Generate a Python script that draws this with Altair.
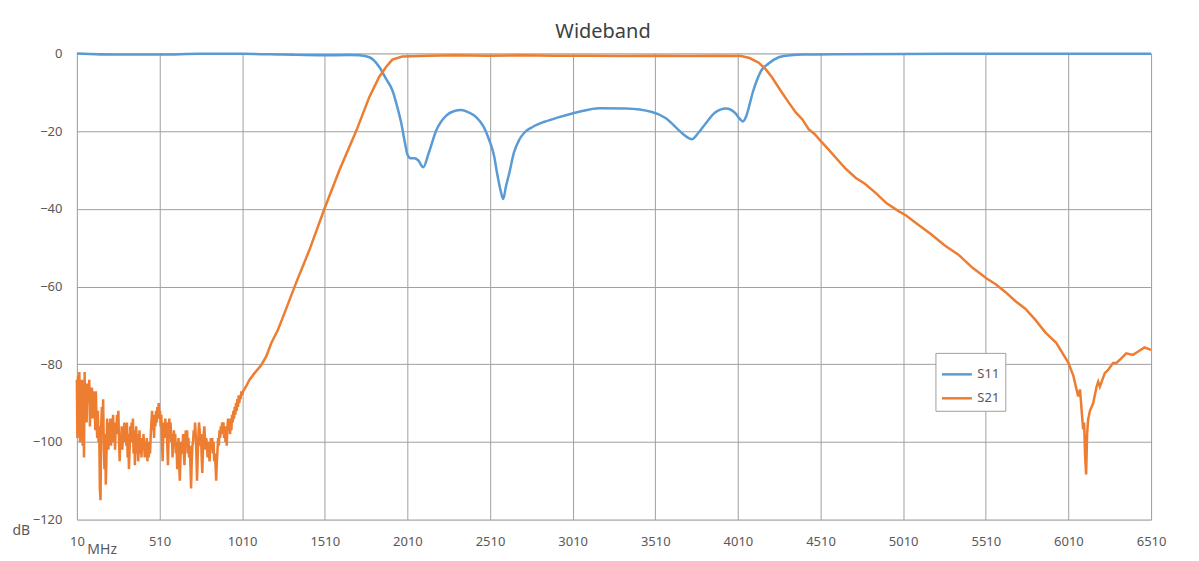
import altair as alt
import pandas as pd

# ---------------- data ----------------
s11_mhz = [10, 260, 510, 760, 1010, 1260, 1500, 1660, 1720, 1780, 1840, 1880, 1919, 1950, 1973,
           1995, 2010, 2030, 2052, 2075, 2106, 2140, 2185, 2245, 2290, 2336, 2380, 2426, 2470,
           2505, 2535, 2553, 2575, 2590, 2605, 2626, 2655, 2686, 2720, 2765, 2840, 2928, 3050,
           3170, 3332, 3490, 3574, 3653, 3700, 3731, 3770, 3816, 3870, 3937, 3997, 4020, 4040,
           4060, 4076, 4100, 4125, 4150, 4196, 4257, 4300, 4400, 4600, 5000, 5500, 6000, 6510]
s11_db = [0, -0.3, -0.3, -0.1, -0.1, -0.3, -0.5, -0.4, -0.5, -1.0, -3.5, -6.5, -9.5, -14, -18,
          -23, -26, -27, -27, -27.5, -29.3, -25.5, -19.8, -16, -14.9, -14.6, -15.2, -16.4, -18.8,
          -22.3, -26.5, -30.9, -35.5, -37.5, -34.5, -30.9, -25.5, -22.3, -20.3, -19, -17.6, -16.4, -15,
          -14.1, -14.2, -15.1, -16.7, -19.8, -21.5, -22.1, -20.5, -18, -15.3, -14.2, -15.5, -16.8, -17.5,
          -16.2, -13.9, -10, -6.9, -4.5, -2.6, -1, -0.6, -0.3, -0.2, -0.15, -0.1, -0.1, -0.1]

s21_mhz = [10, 13, 17, 21, 25, 29, 33, 37, 41, 45, 49, 53, 57, 61, 65, 69, 73, 77, 81, 85, 89, 93, 97,
           101, 105, 109, 113, 117, 121, 125, 129, 133, 137, 141, 145, 149, 153, 157, 161, 165, 169,
           173, 177, 181, 185, 189, 193, 197, 201, 205, 209, 213, 217, 221, 225, 229, 233, 237, 241,
           245, 249, 253, 257, 261, 265, 269, 273, 277, 281, 285, 289, 293, 297, 301, 305, 309, 313,
           317, 321, 325, 329, 333, 337, 341, 345, 349, 353, 357, 361, 365, 369, 373, 377, 381, 385,
           389, 393, 397, 401, 405, 409, 413, 417, 421, 425, 429, 433, 437, 441, 445, 449, 453, 457,
           461, 465, 469, 473, 477, 481, 485, 489, 493, 497, 501, 505, 509,
           513, 517, 521, 525, 529, 533, 537, 541, 545, 549, 553, 557, 561, 565, 569, 573, 577, 581,
           585, 589, 593, 597, 601, 605, 609, 613, 617, 621, 625, 629, 633, 637, 641, 645, 649, 653,
           657, 661, 665, 669, 673, 677, 681, 685, 689, 693, 697, 701, 705, 709, 713, 717, 721, 725,
           729, 733, 737, 741, 745, 749, 753, 757, 761, 765, 769, 773, 777, 781, 785, 789, 793, 797,
           801, 805, 809, 813, 817, 821, 825, 829, 833, 837, 841, 845, 849, 853, 857, 861, 865, 869,
           873, 877, 881, 885, 889, 893, 897, 901, 905, 909, 913, 917, 921, 925, 929, 933, 937, 941,
           945, 949, 953, 957, 961, 965, 969, 973, 977, 981, 985, 989, 993, 997, 1001, 1005, 1010,
           1015, 1030, 1055, 1085, 1126, 1156, 1186, 1226, 1254, 1337, 1418, 1508, 1599, 1700, 1780,
           1840, 1881, 1919, 1979, 2142, 2300, 2500, 2700, 2900, 3100, 3300, 3500, 3700, 3900, 4030,
           4080, 4136, 4180,
           4215, 4275, 4320, 4360, 4400, 4438, 4475, 4510, 4555, 4601, 4660, 4722, 4780, 4843, 4910,
           4982, 5030, 5085, 5130, 5181, 5260, 5344, 5430, 5513, 5570, 5628, 5690, 5749, 5810, 5870,
           5936, 6009, 6040, 6069, 6080, 6090, 6099, 6105, 6111, 6117, 6123, 6129, 6140, 6160, 6180,
           6190, 6200, 6230, 6250, 6280, 6300, 6330, 6360, 6400, 6430, 6470, 6510]
s21_db = [-84, -99, -83, -97, -82, -100, -86, -95, -84, -101, -89, -104, -82, -92, -86, -95, -85, -90,
          -87, -84, -96, -88, -91, -86, -94, -87, -92, -88, -97, -87, -95, -99, -92, -100, -96, -112,
          -115, -96, -91, -95, -89, -102, -107, -98, -111, -104, -94, -99, -102, -95, -98, -94, -101,
          -96, -99, -93, -100, -96, -102, -95, -98, -93, -97, -92, -100, -105, -98, -101, -96, -102,
          -98, -100, -95, -99, -96, -101, -95, -104, -98, -107, -102, -96, -100, -95, -99, -94, -103,
          -97, -106, -100, -96, -103, -98, -105, -101, -97, -103, -100, -104, -99, -102, -98, -101,
          -104, -100, -103, -99, -105, -101, -104, -100, -103, -98, -95, -92, -97, -94, -99, -93, -96,
          -92, -95, -91, -94, -90, -93,
          -92, -96, -93, -100, -105, -98, -95, -99, -94, -97, -95, -101, -106, -99, -94, -97, -95,
          -100, -98, -104, -100, -97, -100, -98, -103, -100, -107, -103, -99, -106, -110, -104, -100,
          -103, -101, -98, -103, -106, -101, -97, -101, -97, -103, -99, -104, -101, -106, -112, -105,
          -101, -100, -97, -99, -95, -98, -103, -110, -104, -99, -95, -97, -101, -98, -104, -108, -102,
          -98, -96, -99, -102, -99, -101, -104, -100, -103, -105, -101, -99, -102, -99, -103, -100,
          -105, -103, -106, -110, -105, -102, -99, -101, -97, -99, -96, -98, -95, -97, -95, -99, -96,
          -100, -97, -101, -96, -94, -97, -95, -98, -94, -97, -93, -95, -92, -94, -91, -93, -90, -92,
          -89, -91, -88, -90, -88, -89, -87, -88,
          -87, -86, -84, -82.3, -80.2, -78, -74.6, -71.2, -68.2, -59, -50.5, -40, -30, -20, -11.2,
          -6, -3.5, -1.6, -0.8, -0.6, -0.5, -0.6, -0.5, -0.6, -0.6, -0.7, -0.6, -0.7, -0.6, -0.7,
          -1.2, -2.4, -4.2,
          -6.1, -10, -12.8, -15.2, -17.0, -19.5, -20.8, -22.5, -24.6, -26.8, -29.6, -32, -33.6, -35.9, -38.6,
          -40.6, -41.8, -43.6, -45.0, -46.6, -49.4, -51.8, -55.2, -57.9, -59.4, -61.4, -63.8, -65.7, -68.6, -71.8,
          -74.5, -79.6, -83.0, -88.3, -86.5, -92.0, -96.8, -95.0, -103.7, -108.4, -98.0, -94.3, -92.0, -90.0, -85.8,
          -84.5, -85.8, -82.3, -81.5, -79.7, -79.7, -78.5, -77.2, -77.6, -76.8, -75.7, -76.3]

x_ticks = [10, 510, 1010, 1510, 2010, 2510, 3010, 3510, 4010, 4510, 5010, 5510, 6010, 6510]
y_ticks = [0, -20, -40, -60, -80, -100, -120]

series = ["S11", "S21"]
colors = ["#5B9BD5", "#ED7D31"]

df11 = pd.DataFrame({"MHz": s11_mhz, "dB": s11_db, "series": "S11"})
df21 = pd.DataFrame({"MHz": s21_mhz, "dB": s21_db, "series": "S21"})

FONT = "Noto Sans"
GRID = "#A0A0A0"
TXT = "#595959"

xenc = alt.X("MHz:Q",
             scale=alt.Scale(domain=[10, 6510], nice=False, zero=False),
             axis=alt.Axis(values=x_ticks, format="d", grid=True, gridColor=GRID, gridWidth=1,
                           domain=False, ticks=False, labelPadding=16, labelFontSize=13,
                           labelColor=TXT, labelFont=FONT, title="MHz", titleFont=FONT,
                           titleFontSize=14, titleFontWeight="normal", titleColor=TXT,
                           titleX=10, titleY=30, titleAlign="left", titleBaseline="middle",
                           labelFlush=False))
yenc = alt.Y("dB:Q",
             scale=alt.Scale(domain=[-120, 0], nice=False, zero=False),
             axis=alt.Axis(values=y_ticks, format="d", grid=True, gridColor=GRID, gridWidth=1,
                           domain=False, ticks=False, labelPadding=15, labelFontSize=13,
                           labelColor=TXT, labelFont=FONT, title="dB", titleFont=FONT,
                           titleFontSize=14, titleFontWeight="normal", titleColor=TXT,
                           titleAngle=0, titleX=-65, titleY=478, titleAlign="left",
                           titleBaseline="middle", labelFlush=False))
cenc = alt.Color("series:N",
                 scale=alt.Scale(domain=series, range=colors),
                 legend=alt.Legend(title=None, orient="none", legendX=860, legendY=300,
                                   strokeColor=GRID, fillColor="white", padding=5,
                                   symbolType="stroke", symbolSize=900, symbolStrokeWidth=2.5,
                                   labelFontSize=13, labelColor=TXT, labelFont=FONT,
                                   labelOffset=4, rowPadding=0))

l11 = alt.Chart(df11).mark_line(strokeWidth=2.5, interpolate="monotone").encode(
    x=xenc, y=yenc, color=cenc)
l21 = alt.Chart(df21).mark_line(strokeWidth=2.5, interpolate="linear").encode(
    x=xenc, y=yenc, color=cenc)

chart = alt.layer(l11, l21).properties(
    width=1076, height=467,
    title=alt.TitleParams("Wideband", font=FONT, fontSize=20, fontWeight="normal",
                          color="#404040", anchor="middle", offset=5, dx=-11),
    autosize=alt.AutoSizeParams(type="none"),
    padding={"left": 69, "top": 45, "right": 40, "bottom": 40},
).configure_view(stroke=None).configure(background="white")

chart.save("out.html", embed_options={"renderer": "svg", "actions": False})
